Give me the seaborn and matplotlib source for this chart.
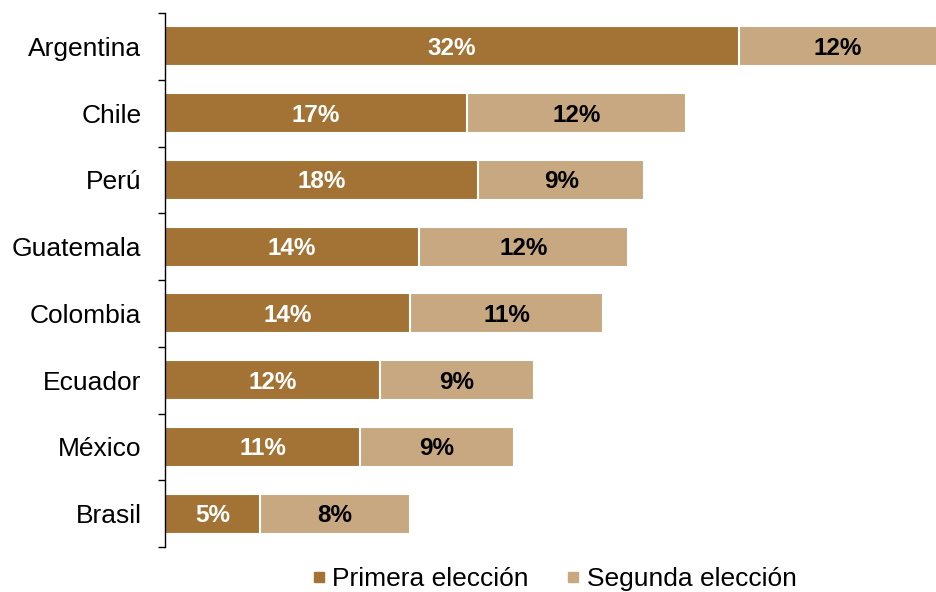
import numpy as np
import pandas as pd
import matplotlib
matplotlib.use("Agg")
import matplotlib.pyplot as plt
from matplotlib.lines import Line2D
from matplotlib.ticker import FixedLocator
import seaborn as sns

# data (in %)
paises = ["Argentina", "Chile", "Perú", "Guatemala", "Colombia", "Ecuador", "México", "Brasil"]
primera = [32.1, 16.9, 17.5, 14.2, 13.7, 12.0, 10.9, 5.3]
segunda = [11.6, 12.2, 9.3, 11.7, 10.8, 8.6, 8.6, 8.4]
etiq_primera = ["32%", "17%", "18%", "14%", "14%", "12%", "11%", "5%"]
etiq_segunda = ["12%", "12%", "9%", "12%", "11%", "9%", "9%", "8%"]

col_primera = "#A27335"
col_segunda = "#C8A881"

df = pd.DataFrame({"pais": paises, "primera": primera, "segunda": segunda})
df["total"] = df["primera"] + df["segunda"]

sns.set_style("white")
plt.rcParams["font.family"] = ["Liberation Sans", "DejaVu Sans"]

fig = plt.figure(figsize=(9.36, 5.92), dpi=100)
ax = fig.add_axes([165 / 936, 45 / 592, 771 / 936, 534 / 592])

# stacked: totals in light colour, first choice overlaid in dark
sns.barplot(data=df, x="total", y="pais", color=col_segunda, orient="h", saturation=1,
            width=0.6, edgecolor="white", linewidth=1.5, ax=ax)
sns.barplot(data=df, x="primera", y="pais", color=col_primera, orient="h", saturation=1,
            width=0.6, edgecolor="white", linewidth=1.5, ax=ax)

xmax = 43.1
ax.set_xlim(0, xmax)
ax.set_ylim(7.5, -0.5)

# value labels
for i in range(len(paises)):
    ax.text(primera[i] / 2, i + 0.03, etiq_primera[i], ha="center", va="center",
            color="white", fontsize=17.5, fontweight="bold")
    fin = min(primera[i] + segunda[i], xmax)
    ax.text((primera[i] + fin) / 2, i + 0.03, etiq_segunda[i], ha="center", va="center",
            color="black", fontsize=17.5, fontweight="bold")

# axes styling
for s in ["top", "right", "bottom"]:
    ax.spines[s].set_visible(False)
ax.spines["left"].set_color("black")
ax.spines["left"].set_linewidth(1.0)
ax.set_xticks([])
ax.set_xlabel("")
ax.set_ylabel("")
ax.yaxis.set_minor_locator(FixedLocator(np.arange(-0.5, 8, 1)))
ax.tick_params(axis="y", which="major", length=0, pad=17, labelsize=19, labelcolor="black")
ax.tick_params(axis="y", which="minor", length=5, width=1.0, color="black", left=True)

handles = [
    Line2D([], [], marker="s", linestyle="", markersize=7.5, color=col_primera),
    Line2D([], [], marker="s", linestyle="", markersize=7.5, color=col_segunda),
]
fig.legend(handles, ["Primera elección", "Segunda elección"], loc="center",
           bbox_to_anchor=(555 / 936, 1 - 579 / 592), ncol=2, frameon=False,
           fontsize=19, handlelength=0.4, handletextpad=0.3, columnspacing=1.5,
           borderpad=0, labelcolor="black")

fig.savefig("out.png", dpi=100)
